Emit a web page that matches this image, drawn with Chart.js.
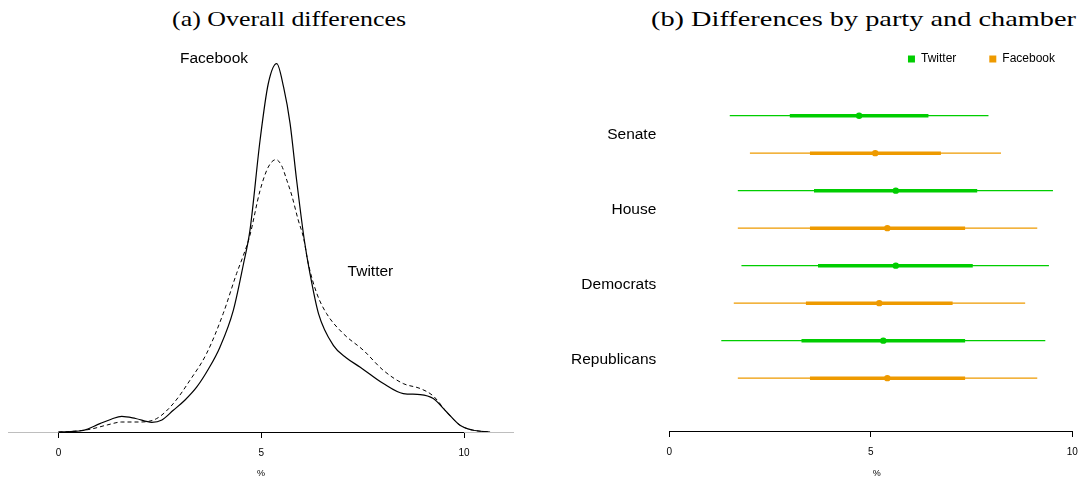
<!DOCTYPE html>
<html>
<head>
<meta charset="utf-8">
<script src="https://cdn.jsdelivr.net/npm/chart.js@4"></script>
<style>
html, body { margin:0; padding:0; width:1078px; height:479px; overflow:hidden; background:#fff; }
#wrap { position:relative; width:1078px; height:479px; overflow:hidden; }
.ttl { position:absolute; font-family:"Liberation Serif", "Times New Roman", serif; font-size:22px; line-height:26px; white-space:nowrap; color:#000; transform-origin:0 50%; }
#c1 { position:absolute; left:0; top:0; width:539px; height:479px; }
#c2 { position:absolute; left:539px; top:0; width:549px; height:479px; }
</style>
</head>
<body>
<div id="wrap">
  <div id="t1" class="ttl" style="left:172px; top:6px;">(a) Overall differences</div>
  <div id="t2" class="ttl" style="left:651px; top:6px;">(b) Differences by party and chamber</div>
  <canvas id="c1" width="539" height="479"></canvas>
  <canvas id="c2" width="549" height="479"></canvas>
</div>
<script>
// ---------- Panel (a): density of differences (%) ----------
const facebookX = [0.0, 0.3, 0.61, 1.02, 1.3, 1.56, 1.9, 2.30, 2.55, 2.83, 3.12, 3.41, 3.7, 3.98, 4.31, 4.56, 4.72, 4.97, 5.17, 5.38, 5.55, 5.71, 5.87, 6.06, 6.20, 6.41, 6.78, 7.1, 7.44, 8.01, 8.50, 8.92, 9.24, 9.57, 9.90, 10.2, 10.64];
const facebookDensity = [0, 0.0005, 0.002, 0.0104, 0.016, 0.0196, 0.0169, 0.0121, 0.015, 0.0271, 0.04, 0.0563, 0.079, 0.106, 0.152, 0.21, 0.252, 0.365, 0.435, 0.4605, 0.431, 0.3855, 0.315, 0.24, 0.198, 0.148, 0.108, 0.0925, 0.081, 0.0605, 0.048, 0.0468, 0.0418, 0.025, 0.0084, 0.0025, 0];
const twitterX = [0.0, 0.4, 0.78, 1.2, 1.56, 2.01, 2.42, 2.83, 3.24, 3.65, 4.06, 4.39, 4.56, 4.71, 4.97, 5.17, 5.36, 5.5, 5.63, 5.75, 5.91, 6.04, 6.16, 6.37, 6.61, 7.02, 7.52, 8.01, 8.50, 8.92, 9.24, 9.57, 9.90, 10.2, 10.64];
const twitterDensity = [0, 0.001, 0.0034, 0.0088, 0.0125, 0.0125, 0.0168, 0.0355, 0.0646, 0.098, 0.148, 0.198, 0.221, 0.244, 0.302, 0.331, 0.3405, 0.333, 0.3146, 0.296, 0.265, 0.243, 0.21, 0.173, 0.148, 0.123, 0.102, 0.077, 0.0605, 0.0543, 0.045, 0.025, 0.0084, 0.0025, 0];
const xTicksA = [0, 5, 10];
const curveLabelTexts = ['Facebook', 'Twitter'];
const curveLabelX = [3.835, 7.69];
const curveLabelY = [0.467, 0.2];

// ---------- Panel (b): differences by party and chamber ----------
const groups = ['Senate', 'House', 'Democrats', 'Republicans'];
const seriesNames = ['Twitter', 'Facebook'];
const twitterMedian    = [4.71, 5.62, 5.62, 5.31];
const twitterInnerLow  = [2.99, 3.59, 3.69, 3.28];
const twitterInnerHigh = [6.43, 7.64, 7.53, 7.34];
const twitterOuterLow  = [1.50, 1.70, 1.79, 1.29];
const twitterOuterHigh = [7.92, 9.52, 9.42, 9.33];
const facebookMedian    = [5.11, 5.41, 5.21, 5.41];
const facebookInnerLow  = [3.49, 3.49, 3.39, 3.49];
const facebookInnerHigh = [6.74, 7.34, 7.03, 7.34];
const facebookOuterLow  = [2.00, 1.70, 1.60, 1.70];
const facebookOuterHigh = [8.23, 9.13, 8.83, 9.13];
const xTicksB = [0, 5, 10];

// ---------- styling ----------
const SANS = '"Liberation Sans", Arial, Helvetica, sans-serif';
Chart.defaults.font.family = SANS;
Chart.defaults.color = '#000';
const COLORS = { Twitter: '#00CD00', Facebook: '#EE9A00' };

// fit titles to the reference widths
(function () {
  const fit = (id, w) => {
    const el = document.getElementById(id);
    el.style.transform = 'scaleX(' + (w / el.getBoundingClientRect().width) + ')';
  };
  fit('t1', 234);
  fit('t2', 425);
})();

// R-style axis: line only between first and last tick, grey zero line
function rAxisPlugin(ticks, withZeroLine, withLabels) {
  return {
    id: 'rAxis',
    beforeDatasetsDraw(chart) {
      if (!withZeroLine) return;
      const { ctx, chartArea: a, scales: { y } } = chart;
      const py = Math.round(y.getPixelForValue(0)) + 0.5;
      ctx.save();
      ctx.strokeStyle = '#bebebe';
      ctx.lineWidth = 1;
      ctx.beginPath(); ctx.moveTo(a.left, py); ctx.lineTo(a.right, py); ctx.stroke();
      ctx.restore();
    },
    afterDraw(chart) {
      const { ctx, scales: { x, y } } = chart;
      const py = Math.round(x.top) + 0.5;
      ctx.save();
      ctx.strokeStyle = '#000';
      ctx.lineWidth = 1;
      ctx.beginPath();
      ctx.moveTo(x.getPixelForValue(ticks[0]), py);
      ctx.lineTo(x.getPixelForValue(ticks[ticks.length - 1]), py);
      ctx.stroke();
      if (withLabels) {
        ctx.font = '15.5px ' + SANS;
        ctx.fillStyle = '#000';
        ctx.textAlign = 'center';
        ctx.textBaseline = 'middle';
        curveLabelTexts.forEach((t, i) => {
          ctx.fillText(t, x.getPixelForValue(curveLabelX[i]), y.getPixelForValue(curveLabelY[i]));
        });
      }
      ctx.restore();
    }
  };
}

function xAxisOptions(min, max, ticks, height) {
  return {
    type: 'linear', min: min, max: max,
    afterBuildTicks: s => { s.ticks = ticks.map(v => ({ value: v })); },
    afterFit: s => { s.height = height; },
    border: { display: false },
    grid: { display: true, drawOnChartArea: false, drawTicks: true, tickLength: 6, color: '#000' },
    ticks: { font: { size: 10 }, color: '#000', padding: 9, maxRotation: 0, autoSkip: false },
    title: { display: true, text: '%', font: { size: 9 }, color: '#000', padding: 0 }
  };
}

// ---------- chart (a) ----------
new Chart(document.getElementById('c1'), {
  type: 'line',
  data: {
    datasets: [
      { label: 'Facebook', data: facebookX.map((v, i) => ({ x: v, y: facebookDensity[i] })),
        borderColor: '#000', borderWidth: 1.2, pointRadius: 0, fill: false, cubicInterpolationMode: 'monotone' },
      { label: 'Twitter', data: twitterX.map((v, i) => ({ x: v, y: twitterDensity[i] })),
        borderColor: '#000', borderWidth: 1, borderDash: [4, 3], pointRadius: 0, fill: false, cubicInterpolationMode: 'monotone' }
    ]
  },
  options: {
    responsive: false, animation: false, events: [],
    layout: { padding: { top: 32, left: 8, right: 25, bottom: 0 } },
    plugins: { legend: { display: false }, tooltip: { enabled: false }, title: { display: false } },
    scales: {
      x: xAxisOptions(-1.245, 11.23, xTicksA, 47),
      y: { type: 'linear', min: 0, max: 0.5, display: false }
    }
  },
  plugins: [rAxisPlugin(xTicksA, true, true)]
});

// ---------- chart (b) ----------
const seriesData = {
  Twitter: { med: twitterMedian, il: twitterInnerLow, ih: twitterInnerHigh, ol: twitterOuterLow, oh: twitterOuterHigh },
  Facebook: { med: facebookMedian, il: facebookInnerLow, ih: facebookInnerHigh, ol: facebookOuterLow, oh: facebookOuterHigh }
};
function segments(lo, hi, s) {
  const pts = [];
  groups.forEach((g, i) => {
    const r = 2 * i + 1 + s;
    pts.push({ x: lo[i], y: r }, { x: hi[i], y: r }, { x: hi[i], y: null });
  });
  return pts;
}
const dsB = [];
seriesNames.forEach((name, s) => {
  const d = seriesData[name];
  dsB.push({ label: name + ' outer', data: segments(d.ol, d.oh, s), borderColor: COLORS[name], borderWidth: 1.3,
             pointRadius: 0, spanGaps: false, fill: false, borderCapStyle: 'butt', order: 3 });
  dsB.push({ label: name + ' inner', data: segments(d.il, d.ih, s), borderColor: COLORS[name], borderWidth: 3.5,
             pointRadius: 0, spanGaps: false, fill: false, borderCapStyle: 'butt', order: 2 });
});
seriesNames.forEach((name, s) => {
  const d = seriesData[name];
  dsB.push({ label: name, data: groups.map((g, i) => ({ x: d.med[i], y: 2 * i + 1 + s })), showLine: false,
             backgroundColor: COLORS[name], borderColor: COLORS[name], borderWidth: 0,
             pointRadius: 3.2, pointBackgroundColor: COLORS[name], pointBorderWidth: 0, order: 1 });
});

new Chart(document.getElementById('c2'), {
  type: 'line',
  data: { datasets: dsB },
  options: {
    responsive: false, animation: false, events: [],
    layout: { padding: { top: 20, left: 0, right: 0, bottom: 0 } },
    plugins: {
      tooltip: { enabled: false },
      title: { display: false },
      legend: {
        display: true, position: 'top', align: 'end',
        labels: {
          boxWidth: 7, boxHeight: 7, padding: 33, color: '#000', font: { size: 12 },
          filter: item => seriesNames.includes(item.text)
        }
      }
    },
    scales: {
      x: xAxisOptions(0, 10.29, xTicksB, 48),
      y: {
        type: 'linear', reverse: true, min: -0.085, max: 9.41,
        afterBuildTicks: s => { s.ticks = groups.map((g, i) => ({ value: 2 * i + 1.5 })); },
        afterFit: s => { s.width = 130.3; },
        border: { display: false },
        grid: { display: false, drawTicks: false },
        ticks: { font: { size: 15.5 }, color: '#000', padding: 13, autoSkip: false,
                 callback: v => groups[Math.round((v - 1.5) / 2)] }
      }
    }
  },
  plugins: [rAxisPlugin(xTicksB, false, false)]
});
</script>
</body>
</html>
